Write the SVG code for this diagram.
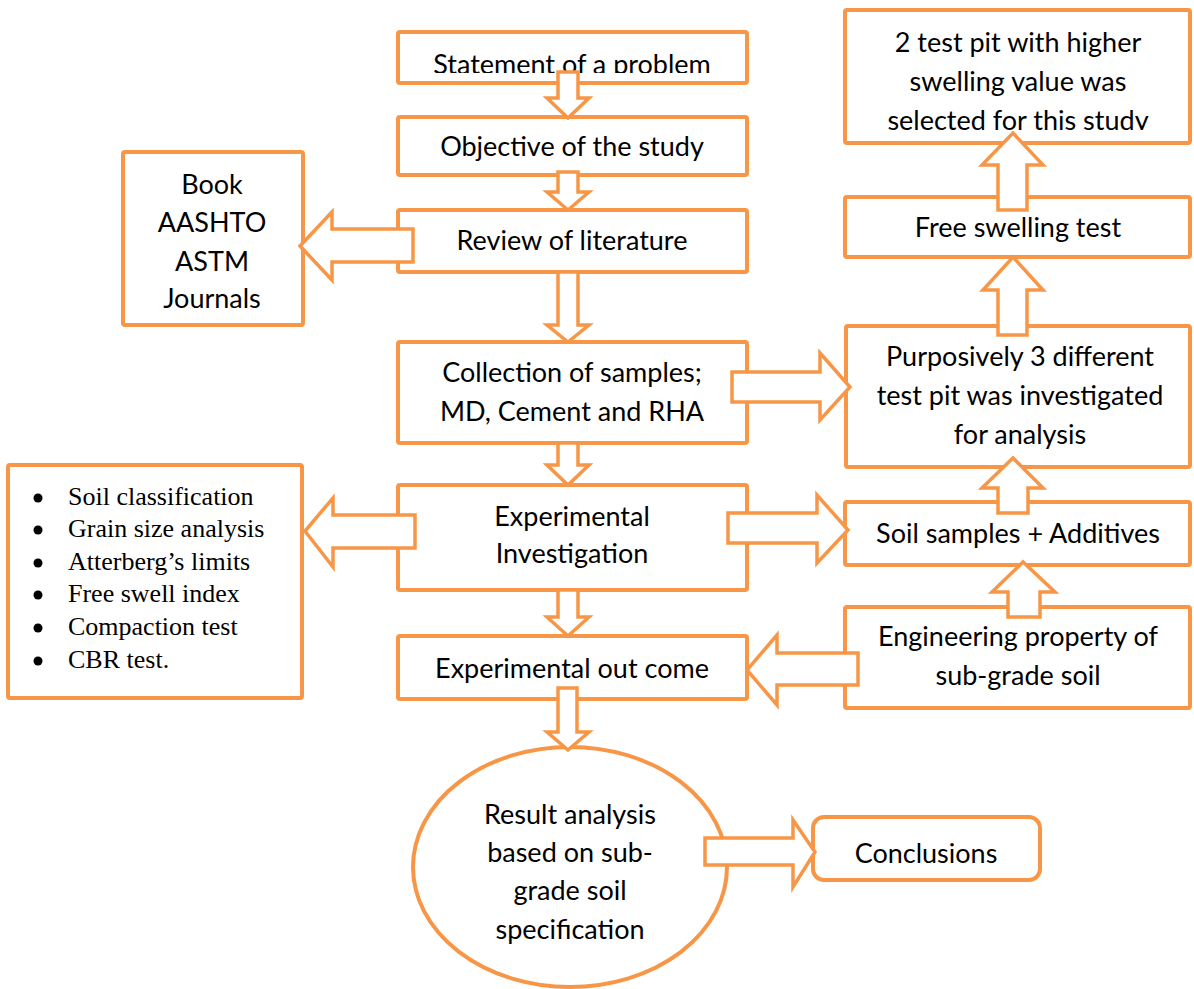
<svg xmlns="http://www.w3.org/2000/svg" width="1194" height="989" viewBox="0 0 1194 989">
<style>
.box{fill:#fff;stroke:#F79646;stroke-width:4;}
.arr{fill:#fff;stroke:#F79646;stroke-width:3.5;stroke-linejoin:miter;}
.t{font-family:Lato,"Open Sans","Noto Sans",sans-serif;font-size:27px;fill:#000;text-anchor:middle;}
.s{font-family:"Liberation Serif","Times New Roman",serif;font-size:26px;fill:#000;}
</style>
<defs>
<clipPath id="c1"><rect x="398" y="32" width="349" height="41"/></clipPath>
<clipPath id="c2"><rect x="845" y="10" width="345" height="120"/></clipPath>
</defs>
<rect width="1194" height="989" fill="#fff"/>
<g id="n1"><rect class="box" x="398" y="32" width="349" height="51" rx="2"/><text class="t" x="572" y="74" clip-path="url(#c1)">Statement of a problem</text></g>
<g id="n2"><rect class="box" x="398" y="117" width="349" height="58" rx="2"/><text class="t" x="572" y="156">Objective of the study</text></g>
<g id="n3"><rect class="box" x="398" y="210" width="349" height="62" rx="2"/><text class="t" x="572" y="250">Review of literature</text></g>
<g id="n4"><rect class="box" x="398" y="342" width="349" height="101" rx="2"/><text class="t" x="572" y="382">Collection of samples;</text><text class="t" x="572" y="421">MD, Cement and RHA</text></g>
<g id="n5"><rect class="box" x="398" y="485" width="349" height="105" rx="2"/><text class="t" x="572" y="526">Experimental</text><text class="t" x="572" y="563">Investigation</text></g>
<g id="n6"><rect class="box" x="398" y="636" width="349" height="63" rx="2"/><text class="t" x="572" y="678">Experimental out come</text></g>
<g id="n7"><rect class="box" x="123" y="152" width="180" height="173" rx="2"/><text class="t" x="212" y="194">Book</text><text class="t" x="212" y="232">AASHTO</text><text class="t" x="212" y="271">ASTM</text><text class="t" x="212" y="308">Journals</text></g>
<g id="n8"><rect class="box" x="8" y="465" width="294" height="233" rx="2"/>
<circle cx="38" cy="498" r="4.5"/><text class="s" x="68" y="505">Soil classification</text>
<circle cx="38" cy="530" r="4.5"/><text class="s" x="68" y="537">Grain size analysis</text>
<circle cx="38" cy="563" r="4.5"/><text class="s" x="68" y="570">Atterberg’s limits</text>
<circle cx="38" cy="595" r="4.5"/><text class="s" x="68" y="602">Free swell index</text>
<circle cx="38" cy="628" r="4.5"/><text class="s" x="68" y="635">Compaction test</text>
<circle cx="38" cy="661" r="4.5"/><text class="s" x="68" y="668">CBR test.</text></g>
<g id="n9"><rect class="box" x="845" y="10" width="345" height="133" rx="2"/><g clip-path="url(#c2)"><text class="t" x="1018" y="52">2 test pit with higher</text><text class="t" x="1018" y="91">swelling value was</text><text class="t" x="1018" y="130">selected for this study</text></g></g>
<g id="n10"><rect class="box" x="845" y="197" width="345" height="60" rx="2"/><text class="t" x="1018" y="237">Free swelling test</text></g>
<g id="n11"><rect class="box" x="846" y="326" width="344" height="141" rx="2"/><text class="t" x="1020" y="366">Purposively 3 different</text><text class="t" x="1020" y="405">test pit was investigated</text><text class="t" x="1020" y="444">for analysis</text></g>
<g id="n12"><rect class="box" x="845" y="502" width="345" height="63" rx="2"/><text class="t" x="1018" y="543">Soil samples + Additives</text></g>
<g id="n13"><rect class="box" x="845" y="607" width="345" height="101" rx="2"/><text class="t" x="1018" y="646">Engineering property of</text><text class="t" x="1018" y="685">sub-grade soil</text></g>
<g id="n14"><ellipse class="box" cx="570" cy="867" rx="157" ry="120"/><text class="t" x="570" y="824">Result analysis</text><text class="t" x="570" y="862">based on sub-</text><text class="t" x="570" y="900">grade soil</text><text class="t" x="570" y="939">specification</text></g>
<g id="n15"><rect class="box" x="813" y="817" width="227" height="63" rx="11"/><text class="t" x="926" y="863">Conclusions</text></g>
<g id="connectors">
<polygon class="arr" points="558,72 578,72 578,98 589,98 568,118 547,98 558,98"/>
<polygon class="arr" points="558,172 578,172 578,192 589,192 568,210 547,192 558,192"/>
<polygon class="arr" points="558,272 578,272 578,325 589,325 568,342 547,325 558,325"/>
<polygon class="arr" points="558,443 578,443 578,465 589,465 568,485 547,465 558,465"/>
<polygon class="arr" points="558,590 578,590 578,617 589,617 568,636 547,617 558,617"/>
<polygon class="arr" points="558,688 577,688 577,732 589,732 568,750 547,732 558,732"/>
<polygon class="arr" points="413,229 413,262 332,262 332,280 300,246 332,212 332,229"/>
<polygon class="arr" points="415,515 415,548 333,548 333,567 305,531 333,498 333,515"/>
<polygon class="arr" points="858,653 858,685 777,685 777,705 747,670 777,635 777,653"/>
<polygon class="arr" points="732,372 820,372 820,353 850,387 820,420 820,402 732,402"/>
<polygon class="arr" points="728,513 817,513 817,495 848,530 817,563 817,543 728,543"/>
<polygon class="arr" points="705,838 793,838 793,820 815,852 793,887 793,865 705,865"/>
<polygon class="arr" points="998,210 998,165 982,165 1013,133 1043,165 1027,165 1027,210"/>
<polygon class="arr" points="998,335 998,290 983,290 1013,257 1043,290 1027,290 1027,335"/>
<polygon class="arr" points="998,513 998,488 982,488 1013,458 1043,488 1028,488 1028,513"/>
<polygon class="arr" points="1008,617 1008,592 992,592 1023,562 1055,592 1040,592 1040,617"/>
</g>
</svg>
